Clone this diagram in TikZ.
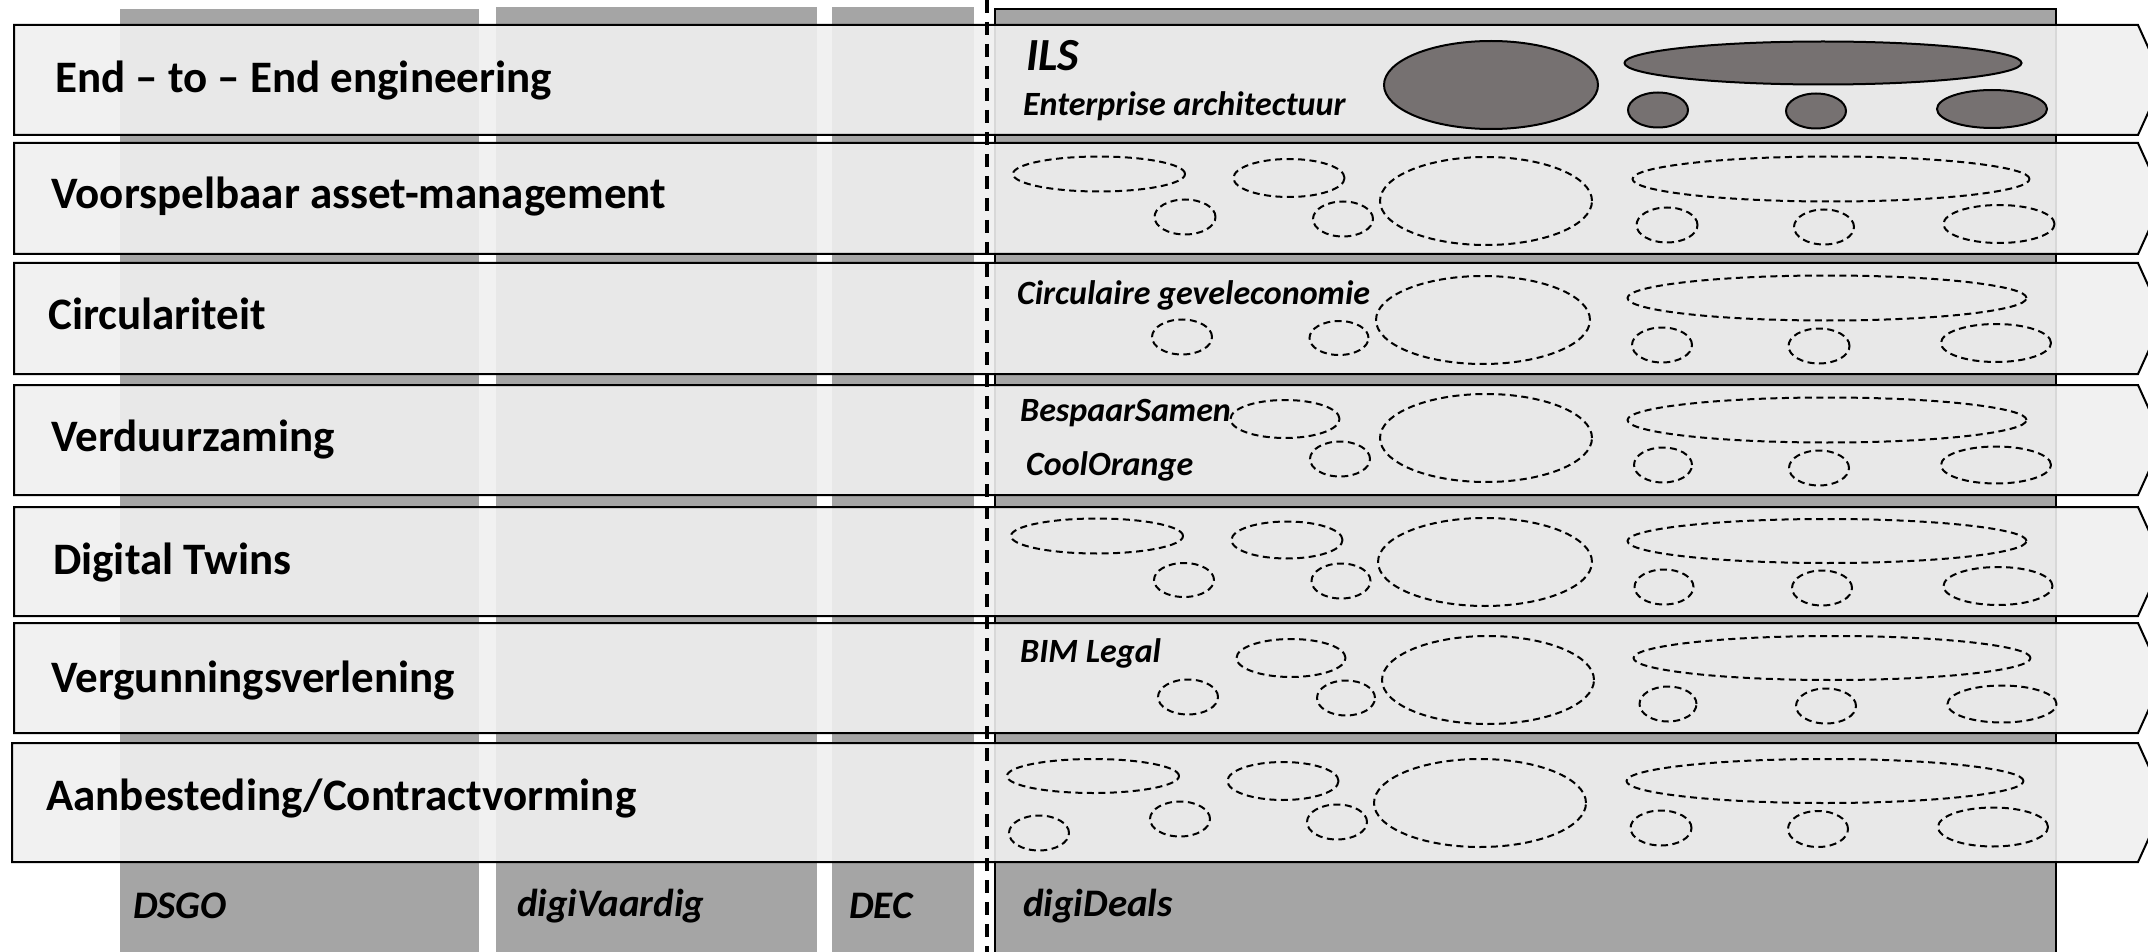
\documentclass[tikz,border=0pt]{standalone}
\usepackage{fontspec}
\setmainfont{Carlito}
\usetikzlibrary{shapes.geometric}
\definecolor{colgray}{HTML}{A5A5A5}
\definecolor{bandfill}{HTML}{F0F0F0}
\definecolor{ellfill}{HTML}{767171}
\tikzset{
  band/.style={fill=bandfill, fill opacity=0.9, draw=black, line width=2pt, line join=miter},
  dell/.style={ellipse, draw=black, line width=2pt, dash pattern=on 7pt off 4.5pt, inner sep=0pt},
  fell/.style={ellipse, draw=black, fill=ellfill, line width=2pt, inner sep=0pt},
  rowlab/.style={anchor=base west, inner sep=0pt, font=\bfseries\fontsize{45}{50}\selectfont},
  colab/.style={anchor=base west, inner sep=0pt, font=\bfseries\itshape\fontsize{39}{44}\selectfont},
  projlab/.style={anchor=base west, inner sep=0pt, font=\bfseries\itshape\fontsize{34}{38}\selectfont},
  bigproj/.style={anchor=base west, inner sep=0pt, font=\bfseries\itshape\fontsize{46}{50}\selectfont},
}
\begin{document}
\begin{tikzpicture}[x=1pt,y=-1pt]
\useasboundingbox (0,0) rectangle (2148,952);
\clip (0,0) rectangle (2148,952);
% columns
\fill[colgray] (120,9) rectangle (479,960);
\fill[colgray] (496,7) rectangle (817,960);
\fill[colgray] (832,7) rectangle (974,960);
\filldraw[fill=colgray, draw=black, line width=1.5pt] (995,9) rectangle (2056,965);
% row bands
\foreach \l/\t/\b in {14/25/135, 14/143/254, 14/263/374, 14/385/495, 14/507/616, 14/623/733, 12/743/862}{
  \path[band] (\l,\t) -- (2138,\t) -- ({2138+(\b-\t)/4.4},{(\t+\b)/2}) -- (2138,\b) -- (\l,\b) -- cycle;
}
% filled ellipses row 1
\foreach \n/\x/\y/\w/\h in {1E/1491/85/214/88, 1F/1823/63/397/43, 1G/1658/110/60/35, 1H/1816/111/60/35, 1I/1992/109/110/38}{
  \node[fell, minimum width=\w pt, minimum height=\h pt] (e\n) at (\x,\y) {};
}
% dashed ellipses
\foreach \n/\x/\y/\w/\h in {
  2A/1099/174/172/35, 2B/1289/178/111/38, 2C/1185/217/61/35, 2D/1343/219/60/35, 2E/1486/201/212/88, 2F/1831/179/397/45, 2G/1667/225/61/35, 2H/1824/227/60/35, 2I/1999/224/111/38,
  3C/1182/337/60/35, 3D/1339/338/59/34, 3E/1483/320/214/88, 3F/1827/298/399/45, 3G/1662/345/60/35, 3H/1819/346/61/35, 3I/1996/343/110/38,
  4B/1285/419/109/38, 4D/1340/459/60/35, 4E/1486/438/212/88, 4F/1827/420/399/45, 4G/1663/465/58/35, 4H/1819/468/60/35, 4I/1996/465/110/37,
  5A/1097/536/172/35, 5B/1287/540/111/37, 5C/1184/580/60/34, 5D/1341/581/59/35, 5E/1485/562/214/88, 5F/1827/541/399/44, 5G/1664/587/59/35, 5H/1822/588/60/35, 5I/1998/586/109/38,
  6B/1291/658/109/38, 6C/1188/697/60/35, 6D/1346/698/58/35, 6E/1488/680/212/88, 6F/1832/658/397/44, 6G/1668/704/57/35, 6H/1826/706/60/35, 6I/2002/704/109/37,
  7A/1093/776/172/34, 7J/1039/833/60/35, 7B/1283/781/111/38, 7C/1180/819/60/35, 7D/1337/822/60/35, 7E/1480/803/212/88, 7F/1825/781/397/44, 7G/1661/828/61/35, 7H/1818/829/60/36, 7I/1993/827/110/39}{
  \node[dell, minimum width=\w pt, minimum height=\h pt] (e\n) at (\x,\y) {};
}
% row labels
\node[rowlab] (r1) at (55,93) {End -- to -- End engineering};
\node[rowlab] (r2) at (51,209) {Voorspelbaar asset-management};
\node[rowlab] (r3) at (48,329) {Circulariteit};
\node[rowlab] (r4) at (51,451) {Verduurzaming};
\node[rowlab] (r5) at (53,574) {Digital Twins};
\node[rowlab] (r6) at (51,692) {Vergunningsverlening};
\node[rowlab] (r7) at (46,810) {Aanbesteding/Contractvorming};
% project labels
\node[bigproj] (ils) at (1026,71) {ILS};
\node[projlab] (ea) at (1023,116) {Enterprise architectuur};
\node[projlab] (cg) at (1017,304) {Circulaire geveleconomie};
\node[projlab] (bs) at (1020,421) {BespaarSamen};
\node[projlab] (co) at (1026,475) {CoolOrange};
\node[projlab] (bl) at (1020,662) {BIM Legal};
% column labels
\node[colab] (dsgo) at (133,918) {DSGO};
\node[colab] (dv) at (517,916) {digiVaardig};
\node[colab] (dec) at (849,918) {DEC};
\node[colab] (dd) at (1023,916) {digiDeals};
% dashed divider
\coordinate (vt) at (987,0);
\coordinate (vb) at (987,952);
\draw[line width=3.3pt, dash pattern=on 13pt off 9pt] (vt) -- (vb);
\end{tikzpicture}
\end{document}
